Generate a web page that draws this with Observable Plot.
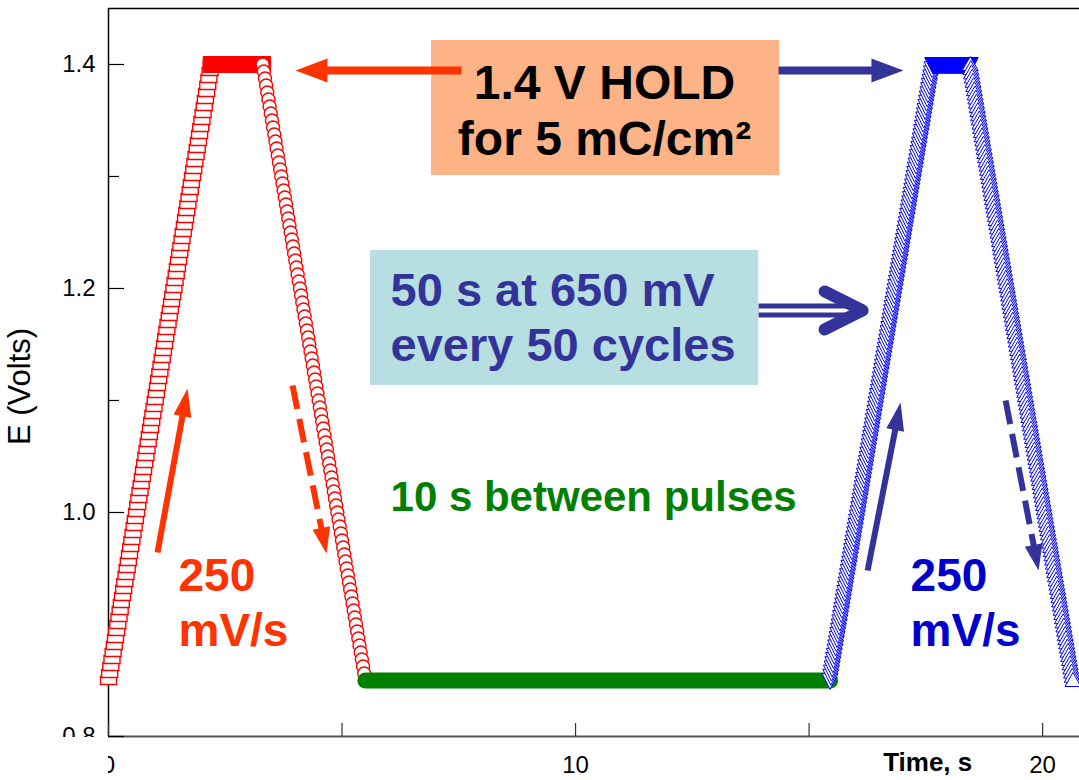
<!DOCTYPE html>
<html>
<head>
<meta charset="utf-8">
<script src="https://cdn.jsdelivr.net/npm/d3@7"></script>
<script src="https://cdn.jsdelivr.net/npm/@observablehq/plot@0.6"></script>
<style>
  html, body { margin: 0; padding: 0; background: #fff; }
  #chart { width: 1079px; height: 780px; overflow: hidden; }
</style>
</head>
<body>
<div id="chart"></div>
<script>
// ---------- potential program ----------
const sweepRate = 0.25;          // V/s  (250 mV/s)
const pulseLow = 0.85;           // V
const pulseHigh = 1.4;           // V
const logStepFirst = 0.025;      // s between logged points, first pulse
const logStepSecond = 0.015;     // s between logged points, second pulse

// first pulse: anodic sweep, 1.4 V hold, cathodic sweep (s)
const firstRampTime = [0, 2.2];
const firstHoldTime = [2.2, 3.3];
const firstReturnTime = [3.3, 5.5];

// rest between pulses
const restTime = [5.5, 15.45];
const restE = [0.85, 0.85];

// second pulse
const secondRampTime = [15.45, 17.65];
const secondHoldTime = [17.65, 18.45];
const secondReturnTime = [18.45, 20.65];

// ---------- axes ----------
const xTicks = [0, 5, 10, 15, 20];
const xTickLabels = [0, 10, 20];
const yMajorTicks = [0.8, 1.0, 1.2, 1.4];
const yMinorTicks = [0.9, 1.1, 1.3];
const xTitle = ["Time, s"];
const yTitle = ["E (Volts)"];

// ---------- annotations (time, potential) ----------
const holdBoxLines = ["1.4 V HOLD", "for 5 mC/cm²"];
const holdBoxLineT = [10.62, 10.62];
const holdBoxLineE = [1.3696, 1.3188];
const holdBoxT = [6.917, 14.368];
const holdBoxE = [1.3009, 1.4214];

const restBoxLines = ["50 s at 650 mV", "every 50 cycles"];
const restBoxLineT = [6.039, 6.039];
const restBoxLineE = [1.1848, 1.1357];
const restBoxT = [5.61, 13.919];
const restBoxE = [1.1134, 1.2339];

const gapLabel = ["10 s between pulses"];
const gapLabelT = [6.039];
const gapLabelE = [1.0009];

const rateLines = ["250", "mV/s"];
const rateLineE = [0.9295, 0.8804];
const rateFirstT = 1.499;
const rateSecondT = 17.173;

// arrows: hold (red, blue), sweep directions (red up, red down, blue up, blue down)
const arrowFromT = [7.559, 14.347, 1.049, 3.940, 16.253, 19.208];
const arrowFromE = [1.3946, 1.3946, 0.9643, 1.1134, 0.9482, 1.1000];
const arrowToT   = [4.004, 17.020, 1.692, 4.668, 16.959, 19.914];
const arrowToE   = [1.3946, 1.3946, 1.1107, 0.9634, 1.0982, 0.9482];

// double arrow from the rest box to the second pulse
const doubleArrowT = [13.919, 16.06];
const doubleArrowE = [1.1804, 1.1804];
const doubleArrowTipT = 16.146;

// ---------- styles ----------
const RED_MARK = "#ff0000";
const RED_NOTE = "#ff3300";
const BLUE_MARK = "#0000ff";
const BLUE_NOTE = "#333399";
const BLUE_TEXT = "#0000cc";
const GREEN = "#008000";
const FONT = "'Liberation Sans', Arial, Helvetica, sans-serif";
const arrowStyle = [
  {color: RED_NOTE, width: 8, len: 32, wid: 24, dash: null},
  {color: BLUE_NOTE, width: 8, len: 32, wid: 24, dash: null},
  {color: RED_NOTE, width: 6, len: 28, wid: 18, dash: null},
  {color: RED_NOTE, width: 6, len: 26, wid: 18, dash: "24,10"},
  {color: BLUE_NOTE, width: 6, len: 28, wid: 18, dash: null},
  {color: BLUE_NOTE, width: 6, len: 26, wid: 18, dash: "24,10"}
];

// ---------- layout ----------
const W = 1079, H = 780;
const M = {top: 8, right: 0, bottom: 44, left: 108};
const xDomain = [0, 20.79];
const yDomain = [0.8, 1.45];
const sx = d3.scaleLinear(xDomain, [M.left, W - M.right]);
const sy = d3.scaleLinear(yDomain, [H - M.bottom, M.top]);

// logged points along one segment of the potential program
function logSegment([t0, t1], eStart, direction, step) {
  const n = Math.round((t1 - t0) / step);
  return d3.range(n + 1).map(i => {
    const t = t0 + (i * (t1 - t0)) / n;
    return {t, E: eStart + direction * sweepRate * (t - t0)};
  });
}

const firstRamp = logSegment(firstRampTime, pulseLow, +1, logStepFirst);
const firstHold = logSegment(firstHoldTime, pulseHigh, 0, logStepFirst);
const firstReturn = logSegment(firstReturnTime, pulseHigh, -1, logStepFirst);
const secondRamp = logSegment(secondRampTime, pulseLow, +1, logStepSecond);
const secondHold = logSegment(secondHoldTime, pulseHigh, 0, logStepSecond);
const secondReturn = logSegment(secondReturnTime, pulseHigh, -1, logStepSecond);
const rest = restTime.map((t, i) => ({t, E: restE[i]}));

// marker shapes
const rectSymbol = (hw, hh) => ({draw(c) {
  c.moveTo(-hw, -hh); c.lineTo(hw, -hh); c.lineTo(hw, hh); c.lineTo(-hw, hh); c.closePath();
}});
const triDown = {draw(c) { c.moveTo(-8, -7); c.lineTo(8, -7); c.lineTo(0, 9); c.closePath(); }};
const triUp = {draw(c) { c.moveTo(0, -8); c.lineTo(8, 6); c.lineTo(-8, 6); c.closePath(); }};
const chevron = {draw(c) { c.moveTo(-38, -19); c.lineTo(0, 0); c.lineTo(-38, 19); }};

// filled arrow head, tip at origin, pointing along angle a
function headSymbol(a, len, wid) {
  const co = Math.cos(a), si = Math.sin(a);
  const p = (u, v) => [u * co - v * si, u * si + v * co];
  return {draw(c) {
    c.moveTo(...p(0, 0)); c.lineTo(...p(-len, -wid / 2)); c.lineTo(...p(-len, wid / 2)); c.closePath();
  }};
}

const arrowMarks = arrowFromT.flatMap((t1, i) => {
  const st = arrowStyle[i];
  const px1 = sx(t1), py1 = sy(arrowFromE[i]);
  const px2 = sx(arrowToT[i]), py2 = sy(arrowToE[i]);
  const a = Math.atan2(py2 - py1, px2 - px1);
  const back = st.len - 4;
  const shaftEnd = {t: sx.invert(px2 - back * Math.cos(a)), E: sy.invert(py2 - back * Math.sin(a))};
  const d = [{x1: t1, y1: arrowFromE[i], x2: shaftEnd.t, y2: shaftEnd.E, tx: arrowToT[i], ty: arrowToE[i]}];
  return [
    Plot.link(d, {x1: "x1", y1: "y1", x2: "x2", y2: "y2", stroke: st.color, strokeWidth: st.width,
      strokeLinecap: "butt", strokeDasharray: st.dash ?? undefined}),
    Plot.dot(d, {x: "tx", y: "ty", symbol: headSymbol(a, st.len, st.wid), fill: st.color, stroke: "none", r: 10})
  ];
});

const textBase = {fontFamily: FONT, fontWeight: "bold", lineAnchor: "bottom"};

const plot = Plot.plot({
  width: W,
  height: H,
  marginTop: M.top,
  marginRight: M.right,
  marginBottom: M.bottom,
  marginLeft: M.left,
  x: {domain: xDomain, axis: null},
  y: {domain: yDomain, axis: null},
  style: {fontFamily: FONT, background: "#fff", overflow: "visible"},
  marks: [
    // annotation boxes
    Plot.rect([0], {x1: holdBoxT[0], x2: holdBoxT[1], y1: holdBoxE[0], y2: holdBoxE[1], fill: "#fdb385"}),
    Plot.rect([0], {x1: restBoxT[0], x2: restBoxT[1], y1: restBoxE[0], y2: restBoxE[1], fill: "#b7dfe1"}),

    // frame
    Plot.ruleY([yDomain[0]], {stroke: "#555", strokeWidth: 2}),
    Plot.ruleX([xDomain[0]], {stroke: "#000", strokeWidth: 1.5}),
    Plot.ruleY([yDomain[1]], {stroke: "#000", strokeWidth: 1.5}),

    // inward ticks
    Plot.tickY(yMajorTicks, {y: d => d, stroke: "#000", strokeWidth: 1.2, insetRight: W - M.left - M.right - 16}),
    Plot.tickY(yMinorTicks, {y: d => d, stroke: "#000", strokeWidth: 1.2, insetRight: W - M.left - M.right - 11}),
    Plot.tickX(xTicks, {x: d => d, stroke: "#333", strokeWidth: 1.2, insetTop: H - M.top - M.bottom - 13}),

    // tick labels
    Plot.text(yMajorTicks, {y: d => d, text: d3.format(".1f"), frameAnchor: "left", textAnchor: "end",
      dx: -13, fontSize: 24, fill: "#000"}),
    Plot.text(xTickLabels, {x: d => d, text: d3.format("d"), frameAnchor: "bottom", lineAnchor: "top",
      dy: 19, fontSize: 24, fill: "#000"}),
    Plot.text(xTitle, {x: 17.54, frameAnchor: "bottom", dy: 34, fontSize: 26, ...textBase, fill: "#000"}),
    Plot.text(yTitle, {frameAnchor: "left", textAnchor: "middle", rotate: -90, dx: -88, dy: 14, fontSize: 31,
      fill: "#000", fontFamily: FONT}),

    // first pulse
    Plot.dot(firstRamp, {x: "t", y: "E", symbol: rectSymbol(8, 4), fill: "#fff", stroke: RED_MARK, strokeWidth: 1.4}),
    Plot.dot(firstHold, {x: "t", y: "E", symbol: rectSymbol(8, 8), fill: RED_MARK, stroke: RED_MARK, strokeWidth: 1}),
    Plot.dot(firstReturn, {x: "t", y: "E", symbol: "circle", r: 6.5, fill: "#fff", stroke: RED_MARK, strokeWidth: 1.4}),

    // rest between pulses
    Plot.line(rest, {x: "t", y: "E", stroke: GREEN, strokeWidth: 16, strokeLinecap: "round"}),

    // second pulse
    Plot.dot(secondRamp, {x: "t", y: "E", symbol: triDown, fill: "#fff", stroke: BLUE_MARK, strokeWidth: 1}),
    Plot.dot(secondHold, {x: "t", y: "E", symbol: triDown, fill: BLUE_MARK, stroke: BLUE_MARK, strokeWidth: 1}),
    Plot.dot(secondReturn, {x: "t", y: "E", symbol: triUp, fill: "#fff", stroke: BLUE_MARK, strokeWidth: 1}),

    // arrows
    ...arrowMarks,
    Plot.link([0], {x1: doubleArrowT[0], x2: doubleArrowT[1], y1: doubleArrowE[0], y2: doubleArrowE[1],
      stroke: BLUE_NOTE, strokeWidth: 14, strokeLinecap: "butt"}),
    Plot.link([0], {x1: doubleArrowT[0], x2: doubleArrowT[1] - 0.15, y1: doubleArrowE[0], y2: doubleArrowE[1],
      stroke: "#fff", strokeWidth: 4, strokeLinecap: "butt"}),
    Plot.dot([0], {x: doubleArrowTipT, y: doubleArrowE[0], symbol: chevron, r: 10, fill: "none",
      stroke: BLUE_NOTE, strokeWidth: 12, strokeLinecap: "round", strokeLinejoin: "round"}),

    // labels
    Plot.text(holdBoxLines, {x: (d, i) => holdBoxLineT[i], y: (d, i) => holdBoxLineE[i], text: d => d,
      fontSize: 48, fill: "#000", textAnchor: "middle", ...textBase}),
    Plot.text(restBoxLines, {x: (d, i) => restBoxLineT[i], y: (d, i) => restBoxLineE[i], text: d => d,
      fontSize: 47, fill: BLUE_NOTE, textAnchor: "start", ...textBase}),
    Plot.text(gapLabel, {x: (d, i) => gapLabelT[i], y: (d, i) => gapLabelE[i], text: d => d,
      fontSize: 42, fill: GREEN, textAnchor: "start", ...textBase}),
    Plot.text(rateLines, {x: rateFirstT, y: (d, i) => rateLineE[i], text: d => d,
      fontSize: 46, fill: RED_NOTE, textAnchor: "start", ...textBase}),
    Plot.text(rateLines, {x: rateSecondT, y: (d, i) => rateLineE[i], text: d => d,
      fontSize: 46, fill: BLUE_TEXT, textAnchor: "start", ...textBase})
  ]
});

document.getElementById("chart").append(plot);

// the frame corner clips the lowest tick labels
const svg = d3.select(plot);
const clip = svg.append("defs").append("clipPath").attr("id", "corner-clip").attr("clipPathUnits", "userSpaceOnUse");
clip.append("rect").attr("x", 0).attr("y", 0).attr("width", W).attr("height", H - M.bottom + 1);
clip.append("rect").attr("x", M.left).attr("y", 0).attr("width", W - M.left).attr("height", H);
const cornerLabels = new Set([d3.format(".1f")(yMajorTicks[0]), d3.format("d")(xTickLabels[0])]);
const labelGroups = new Set();
svg.selectAll("text").each(function () {
  if (cornerLabels.has(this.textContent)) labelGroups.add(this.parentNode);
});
labelGroups.forEach(g => {
  const wrap = document.createElementNS("http://www.w3.org/2000/svg", "g");
  wrap.setAttribute("clip-path", "url(#corner-clip)");
  g.parentNode.insertBefore(wrap, g);
  wrap.appendChild(g);
});
</script>
</body>
</html>
